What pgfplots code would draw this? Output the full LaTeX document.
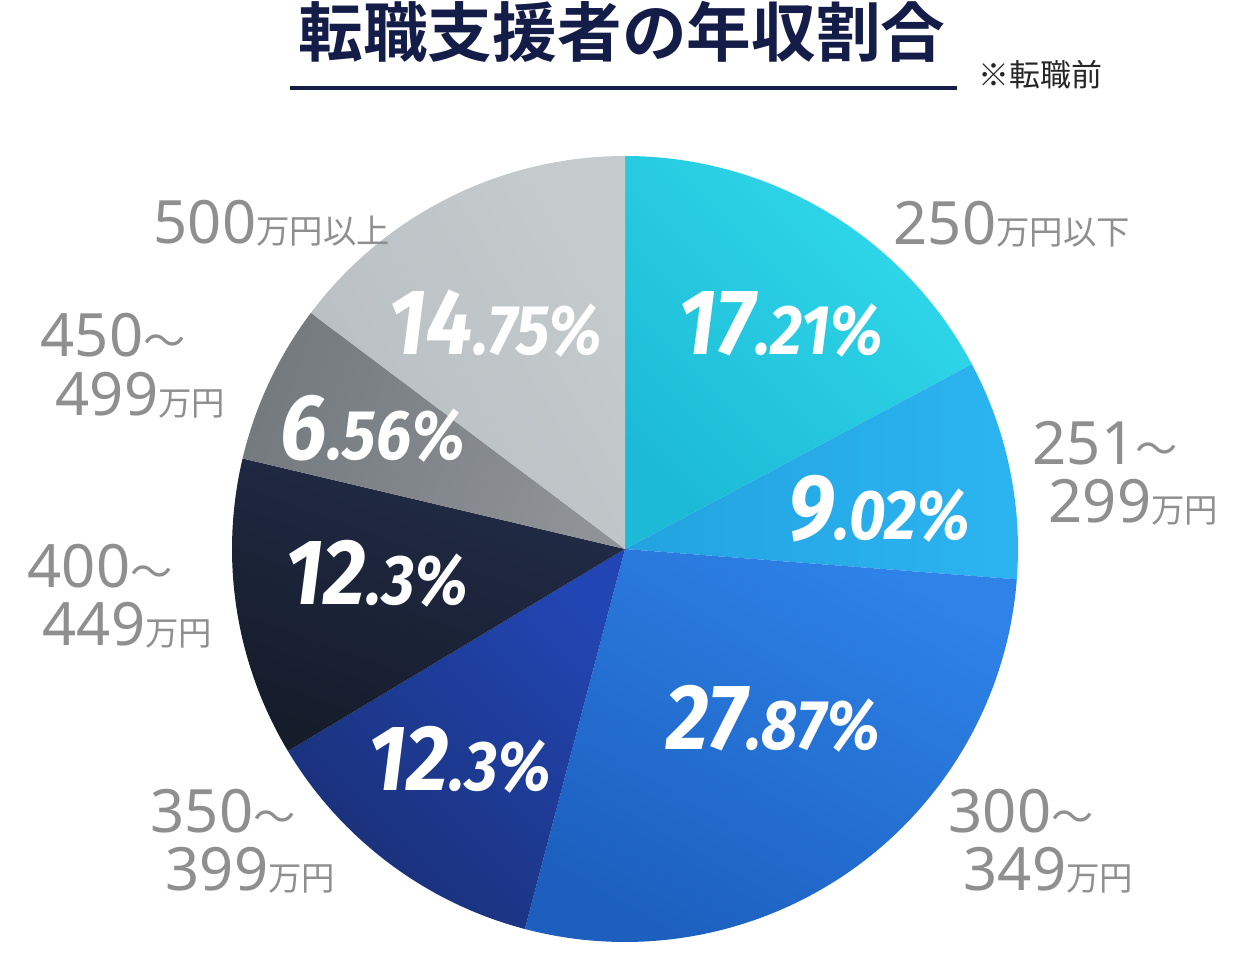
\documentclass[border=0pt]{standalone}
\usepackage{pgfplots}
\pgfplotsset{compat=1.18}
\usepackage{fontspec}
\newfontfamily\cjk{Noto Sans CJK JP}
\newfontfamily\cjkb{Noto Sans CJK JP Bold}
\newfontfamily\labfont{Noto Sans}
\newfontfamily\pct{Fira Sans}[FakeStretch=0.9]

\definecolor{navy}{HTML}{141C48}
\definecolor{labgray}{HTML}{8F8F8F}
% slice colours (light / dark end of each gradient)
\definecolor{cA1}{HTML}{31D9EA}\definecolor{cA2}{HTML}{1CBAD6}
\definecolor{cB1}{HTML}{2CB5F1}\definecolor{cB2}{HTML}{22A3E0}
\definecolor{cC1}{HTML}{2E82E8}\definecolor{cC2}{HTML}{1C5FBE}
\definecolor{cD1}{HTML}{2145B2}\definecolor{cD2}{HTML}{1A3076}
\definecolor{cE1}{HTML}{222C48}\definecolor{cE2}{HTML}{151C2A}
\definecolor{cF1}{HTML}{8F9297}\definecolor{cF2}{HTML}{747A7E}
\definecolor{cG1}{HTML}{C6CBCD}\definecolor{cG2}{HTML}{B7BEC1}

% shares in percent, clockwise from the top
\pgfmathsetmacro\aA{90}
\pgfmathsetmacro\aB{\aA-3.6*17.21}
\pgfmathsetmacro\aC{\aB-3.6*9.02}
\pgfmathsetmacro\aD{\aC-3.6*27.87}
\pgfmathsetmacro\aE{\aD-3.6*12.3}
\pgfmathsetmacro\aF{\aE-3.6*12.3}
\pgfmathsetmacro\aG{\aF-3.6*6.56}
\pgfmathsetmacro\aH{\aG-3.6*14.75}

% dark end points to the direction "up, turned #5 degrees anticlockwise"
\newcommand{\slice}[5]{% start, end, light, dark, shading angle
  \shade[top color=#4, bottom color=#3, shading angle=#5]
    (axis cs:625,549) -- ++(#1:3.93cm) arc[start angle=#1, end angle=#2, radius=3.93cm] -- cycle;}
\newcommand{\lnum}[1]{{\labfont\fontsize{17}{17}\selectfont #1}}
\newcommand{\lunit}[1]{{\cjk\fontsize{9.5}{9.5}\selectfont #1}}
\newcommand{\wave}{{\cjk\fontsize{12}{12}\selectfont ～}}
\newcommand{\pc}[2]{{\pct\bfseries\itshape\fontsize{26.5}{26.5}\selectfont #1{\fontsize{20}{20}\selectfont #2}}}

\begin{document}
\begin{tikzpicture}
\begin{axis}[
    scale only axis,
    width=12.49cm,
    height=9.49cm,
    xmin=0, xmax=1249,
    ymin=0, ymax=949,
    y dir=reverse,
    hide axis,
    clip=false,
]
\addplot[draw=none] coordinates {(0,0) (1249,949)};

\slice{\aA}{\aB}{cA1}{cA2}{135}
\slice{\aB}{\aC}{cB1}{cB2}{90}
\slice{\aC}{\aD}{cC1}{cC2}{150}
\slice{\aD}{\aE}{cD1}{cD2}{135}
\slice{\aE}{\aF}{cE1}{cE2}{160}
\slice{\aF}{\aG}{cF1}{cF2}{70}
\slice{\aG}{\aH}{cG1}{cG2}{120}

% percentages
\begin{scope}[every node/.style={anchor=base west, inner sep=0pt, text=white}]
\node at (axis cs:678,355) {\pc{17}{.21\%}};
\node at (axis cs:788,540) {\pc{9}{.02\%}};
\node at (axis cs:666,750) {\pc{27}{.87\%}};
\node at (axis cs:368,790) {\pc{12}{.3\%}};
\node at (axis cs:285,605) {\pc{12}{.3\%}};
\node at (axis cs:280,460) {\pc{6}{.56\%}};
\node at (axis cs:388,355) {\pc{14}{.75\%}};
\end{scope}

% category labels
\begin{scope}[every node/.style={anchor=base west, inner sep=0pt, text=labgray}]
\node at (axis cs:893,245) {\lnum{250}\lunit{万円以下}};
\node at (axis cs:1032,465) {\lnum{251}\wave};
\node at (axis cs:1048,523) {\lnum{299}\lunit{万円}};
\node at (axis cs:948,832) {\lnum{300}\wave};
\node at (axis cs:963,890) {\lnum{349}\lunit{万円}};
\node at (axis cs:150,832) {\lnum{350}\wave};
\node at (axis cs:165,890) {\lnum{399}\lunit{万円}};
\node at (axis cs:27,588) {\lnum{400}\wave};
\node at (axis cs:42,646) {\lnum{449}\lunit{万円}};
\node at (axis cs:40,357) {\lnum{450}\wave};
\node at (axis cs:55,416) {\lnum{499}\lunit{万円}};
\node at (axis cs:153,244) {\lnum{500}\lunit{万円以上}};
\end{scope}

% title
\node[anchor=base, inner sep=0pt, text=navy] at (axis cs:622,57)
  {\cjkb\fontsize{18.4}{18.4}\selectfont 転職支援者の年収割合};
\draw[navy, line width=1.2pt] (axis cs:290,88) -- (axis cs:957,88);
\node[anchor=base west, inner sep=0pt, text=black!85] at (axis cs:978,87)
  {\cjk\fontsize{8.8}{8.8}\selectfont ※転職前};
\end{axis}
\end{tikzpicture}
\end{document}
